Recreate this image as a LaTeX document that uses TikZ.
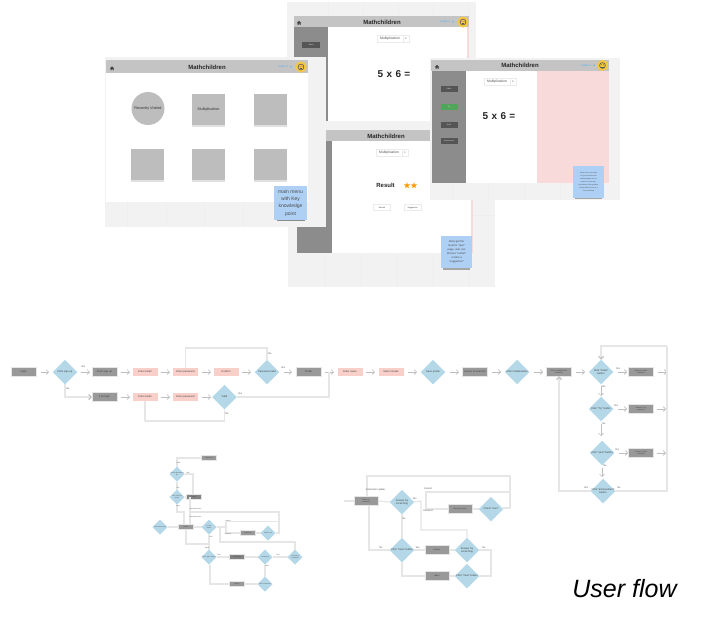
\documentclass[tikz,border=0pt]{standalone}
\usepackage{fontspec}
\setmainfont{Liberation Sans}
\newfontfamily\djv{DejaVu Sans}
\usetikzlibrary{shapes.geometric,arrows.meta,positioning,calc}
\definecolor{cvbg}{HTML}{F2F2F2}
\definecolor{hdr}{HTML}{C4C4C4}
\definecolor{side}{HTML}{8C8C8C}
\definecolor{tile}{HTML}{BDBDBD}
\definecolor{pinkp}{HTML}{F9DADA}
\definecolor{sticky}{HTML}{AFD0F5}
\definecolor{dia}{HTML}{B5D8E8}
\definecolor{pk}{HTML}{F9CFCA}
\definecolor{gbox}{HTML}{999999}
\definecolor{wire}{HTML}{E6E6E6}
\definecolor{tip}{HTML}{BEBEBE}
\definecolor{gridl}{HTML}{EEEEEE}
\definecolor{darkbtn}{HTML}{555555}
\definecolor{okbtn}{HTML}{4FA65A}
\definecolor{avatar}{HTML}{F5C842}
\tikzset{
 x=1pt,y=-1pt,
 every node/.style={inner sep=0pt,outer sep=0pt,align=center},
 winbg/.style={fill=cvbg},
 title/.style={font=\fontsize{6}{7}\selectfont\bfseries,text=black!85},
 gbx/.style={fill=gbox,draw=wire,line width=.6pt,minimum width=25pt,minimum height=8.5pt,font=\fontsize{2.6}{3}\selectfont,text=black!75},
 sbx/.style={gbx,minimum width=15pt,minimum height=5pt,font=\fontsize{1.6}{2}\selectfont},
 pbx/.style={fill=pk,minimum width=25pt,minimum height=8.5pt,font=\fontsize{2.6}{3}\selectfont,text=black!75},
 dm/.style={diamond,fill=dia,inner sep=-7pt,minimum width=24.5pt,minimum height=24.5pt,aspect=1,font=\fontsize{2.6}{3}\selectfont,text=black!75},
 sdm/.style={diamond,fill=dia,inner sep=-6pt,minimum width=15pt,minimum height=15pt,aspect=1,font=\fontsize{1.6}{2}\selectfont,text=black!70},
 wr/.style={draw=wire,line width=1.2pt},
 ar/.style={draw=tip,line width=.6pt,-{Straight Barb[length=2.5pt,width=5pt]}},
 wa/.style={draw=wire,line width=1.2pt,-{Straight Barb[color=tip,length=2.5pt,width=5pt]}},
 lab/.style={font=\fontsize{2.4}{3}\selectfont,text=black!70},
 tinylab/.style={font=\fontsize{1.6}{2}\selectfont,text=black!70},
 sbtn/.style={fill=darkbtn,minimum width=17pt,minimum height=6pt,font=\fontsize{2}{2}\selectfont,text=white!85!black},
 ddbox/.style={draw=black!8,fill=white,line width=.4pt,minimum width=26pt,minimum height=7pt,font=\fontsize{3.4}{4}\selectfont,text=black!70},
 ddtip/.style={draw=black!8,fill=white,line width=.4pt,minimum width=6pt,minimum height=7pt,font=\djv\fontsize{2.5}{3}\selectfont,text=black!70},
 white btn/.style={draw=black!8,fill=white,line width=.4pt,minimum width=17pt,minimum height=6pt,font=\fontsize{2}{2}\selectfont,text=black!75},
 stk/.style={fill=sticky,text=black!70},
 tiletxt/.style={font=\fontsize{3.8}{4.5}\selectfont,text=black!80},
 homeic/.pic={\fill[black!75] (-2.2,0) -- (0,-2.2) -- (2.2,0) -- (1.5,0) -- (1.5,1.9) -- (.5,1.9) -- (.5,.6) -- (-.5,.6) -- (-.5,1.9) -- (-1.5,1.9) -- (-1.5,0) -- cycle;},
 faceic/.pic={\fill[avatar] (0,0) circle (5.6pt); \draw[black!65,line width=.6pt] (0,0) circle (2.9pt); \fill[black!65] (-1,-.7) circle (.45pt) (1,-.7) circle (.45pt); \draw[black!65,line width=.4pt] (-1.2,1.2) -- (1.2,1.2);},
 gradeic/.pic={\node[font=\fontsize{2.6}{3}\selectfont,text=blue!45!cyan!70] at (0,0) {Grade 3}; \fill[blue!45!cyan!70] (7,-.7) -- (9,-.7) -- (8,.7) -- cycle;},
}
\begin{document}
\begin{tikzpicture}
\useasboundingbox (0,0) rectangle (722,627);
\fill[white] (0,0) rectangle (722,627);

% ---- window 2 (behind)
\fill[winbg] (287,2) rectangle (476,121);
\foreach \gx in {328,363,398,433,468} \draw[gridl,line width=.4pt] (\gx,2) -- (\gx,121);
\draw[gridl,line width=.4pt] (287,78) -- (476,78);
\fill[hdr] (294,16) rectangle (469,27);
\fill[side] (294,27) rectangle (328,121);
\fill[white] (328,27) rectangle (467,121);
\fill[pinkp] (467,27) rectangle (469,121);
\pic at (299,23) {homeic};
\node[title] (t2) at (382,22) {Mathchildren};
\pic at (445,22) {gradeic};
\pic at (463,22) {faceic};
\node[sbtn,minimum width=18pt] (b2) at (311,45) {Video};
\node[ddbox] (dd2) at (390,38.5) {Multiplication};
\node[ddtip,right=0pt of dd2] (dt2) {▾};
\node[font=\fontsize{10}{12}\selectfont\bfseries,text=black!85] (q2) at (394,74) {5\,\,x\,\,6\,\,=};

% ---- window 3
\fill[winbg] (288,121) rectangle (495,287);
\foreach \gx in {325,361,397,433,469} \draw[gridl,line width=.4pt] (\gx,253) -- (\gx,287);
\draw[gridl,line width=.4pt] (473,215) -- (495,215);
\fill[hdr] (297,130) rectangle (473,141);
\fill[side] (297,141) rectangle (332,253);
\fill[white] (332,141) rectangle (471,253);
\fill[pinkp] (471,141) rectangle (473,253);
\node[title] (t3) at (386,136) {Mathchildren};
\node[ddbox] (dd3) at (389,152.5) {Multiplication};
\node[ddtip,right=0pt of dd3] (dt3) {▾};
\node[font=\fontsize{6}{7}\selectfont\bfseries,text=black!85] (res) at (385.5,185.5) {Result};
\node[star,star points=5,star point ratio=2.4,fill=orange!80!yellow,minimum size=6.5pt] (s1) at (407,185.5) {};
\node[star,star points=5,star point ratio=2.4,fill=orange!80!yellow,minimum size=6.5pt] (s2) at (414,185.5) {};
\node[white btn] (rb) at (382,207.5) {Restart};
\node[white btn] (sb) at (412.5,207.5) {Suggestion};
\fill[black!35] (443,265) rectangle (470,269.5);
\node[stk,minimum width=31pt,minimum height=32pt,font=\fontsize{2.7}{3.9}\selectfont] (n3) at (456.5,252) {Allow get the\\result in ``quiz''\\page, user can\\Choose ``restart''\\or take a\\``suggestion''};

% ---- window 1 (main menu)
\fill[winbg] (105,57) rectangle (326,227);
\foreach \gx in {127,166,204,243,282} \draw[gridl,line width=.4pt] (\gx,202) -- (\gx,227);
\fill[hdr] (106,60) rectangle (308,73);
\fill[white] (106,73) rectangle (308,202);
\pic at (112,68.5) {homeic};
\node[title] (t1) at (207,67) {Mathchildren};
\pic at (283,67) {gradeic};
\pic at (301,67) {faceic};
\node[circle,fill=tile,minimum size=33pt,tiletxt] (c1) at (148,108.5) {Recently Visited};
\foreach \nm/\px/\py/\tx in {a/208.5/109.5/Multiplication,b/270/109.5/,c/147.5/164/,d/208.5/164/,e/270/164/}{
  \fill[black!12] (\px-16.5,\py-14.5) rectangle (\px+16.5,\py+17.5);
  \node[fill=tile,minimum width=33pt,minimum height=31pt,tiletxt] (tile\nm) at (\px,\py) {\tx};
}
\fill[black!45] (277,218) rectangle (305,221);
\node[stk,minimum width=33.5pt,minimum height=34pt,font=\fontsize{5}{7.2}\selectfont] (n1) at (290.5,203) {main menu\\with Key\\knowledge\\point};

% ---- window 4
\fill[winbg] (430,58) rectangle (620,200);
\foreach \gx in {452,488,524,560,596} \draw[gridl,line width=.4pt] (\gx,183) -- (\gx,200);
\fill[hdr] (431,60) rectangle (609,71);
\fill[side] (432,71) rectangle (466,183);
\fill[white] (466,71) rectangle (537,183);
\fill[pinkp] (537,71) rectangle (609,183);
\pic at (437,67) {homeic};
\node[title] (t4) at (520,65.5) {Mathchildren};
\pic at (586,65.5) {gradeic};
\pic at (602.5,65.5) {faceic};
\node[sbtn] (bv) at (449,89) {Video};
\node[sbtn,fill=okbtn] (bt) at (449,107) {Try};
\node[sbtn] (bq) at (449,124.5) {Quiz};
\node[sbtn,font=\fontsize{1.8}{2}\selectfont] (ba) at (449,140.5) {achievement};
\node[ddbox] (dd4) at (497,82) {Multiplication};
\node[ddtip,right=0pt of dd4] (dt4) {▾};
\node[font=\fontsize{10}{12}\selectfont\bfseries,text=black!85] (q4) at (499,116) {5\,\,x\,\,6\,\,=};
\fill[black!35] (575,196) rectangle (602,198.5);
\node[stk,minimum width=31pt,minimum height=32pt,font=\fontsize{1.7}{3}\selectfont] (n4) at (588.5,182) {Draw here to put input\\only, use the pen tool\\and Backspace tool to\\erase as in the quiz,\\the answer of the problem\\can be filled in here as a\\user practising};

% ---- main flow
\node[gbx] (login) at (23.5,372) {Login};
\node[dm] (d1) at (65,372) {Click sign up};
\node[gbx] (push) at (104.5,372) {Push sign up};
\node[pbx] (em1) at (145,372) {Enter email};
\node[pbx] (pw1) at (185.5,372) {Enter password};
\node[pbx] (cf) at (226,372) {Confirm};
\node[dm] (d2) at (267,372) {Password valid};
\node[gbx] (prof) at (308.5,372) {Profile};
\node[pbx] (nm) at (350,372) {Enter name};
\node[pbx] (gr) at (391,372) {Select Grade};
\node[dm] (d3) at (433,372) {Save profile};
\node[gbx] (rt) at (475,372) {Return to main list};
\node[dm] (d4) at (517,372) {Click multiplication};
\node[gbx,font=\fontsize{1.8}{2}\selectfont] (mp) at (559,372) {Return multiplication\\materials};
\node[dm] (i1) at (601,372) {Click ``Index''\\button};
\node[gbx,font=\fontsize{1.8}{2}\selectfont] (r1) at (641,372) {Return to Index\\materials};
\node[dm] (i2) at (601,409) {Click ``Try'' button};
\node[gbx,font=\fontsize{1.8}{2}\selectfont] (r2) at (641,409) {Return to Try\\materials};
\node[dm] (i3) at (602,453) {Click ``Quiz'' button};
\node[gbx,font=\fontsize{1.8}{2}\selectfont] (r3) at (641,453) {Return to Quiz\\materials};
\node[dm] (i4) at (603,491) {Click ``achievement''\\button};
\node[gbx] (lg) at (104.5,397) {If no login};
\node[pbx] (em2) at (145,397) {Enter email};
\node[pbx] (pw2) at (185.5,397) {Enter password};
\node[dm] (d5) at (224.5,397) {Valid};

\foreach \xs/\xe in {41/49,81/90,121/130,161/170,202/211,242/251,284/292,325/334,366/375,408/417,450/459,492/501,534/543,576/585,618/627,658/667}
  \draw[ar] (\xs,372) -- (\xe,372);
\draw[ar] (618,409) -- (627,409);
\draw[ar] (619,453) -- (628,453);
\draw[ar] (657,409) -- (666,409);
\draw[ar] (657,453) -- (666,453);
\foreach \xs/\xe in {121/130,161/170,202/211}
  \draw[ar] (\xs,397) -- (\xe,397);
\draw[ar] (601,386) -- (601,396);
\draw[ar] (601,424) -- (601,436);
\draw[ar] (602,468) -- (602,477);
\draw[wa] (d1.south) |- (lg.west);
\coordinate (top1) at (267,348);
\draw[wr] (pw1.north) |- (top1) -- (d2.north);
\coordinate (low1) at (144.5,421);
\draw[wr] (em2.south) |- (low1) -| (d5.south);
\coordinate (lk) at (329,372);
\draw[wr] (d5.east) -- (lk |- d5.east) -- (lk);
\coordinate (lp) at (667,346);
\draw[wr] (i4.east) -| (lp);
\draw[wa] (lp) -| (i1.north);
\draw[wa] (i4.west) -| (mp.south);
\node[lab] (ly1) at (83,367) {Yes};
\node[lab] (ln1) at (68,389) {No};
\node[lab] (ln2) at (270,354) {No};
\node[lab] (ly2) at (283,368) {Yes};
\node[lab] (ln3) at (227,413.5) {No};
\node[lab] (ly3) at (240,394) {Yes};
\node[lab] (ly4) at (618,369) {Yes};
\node[lab] (ln4) at (604,387) {No};
\node[lab] (ly5) at (616,406) {Yes};
\node[lab] (ln5) at (604,424) {No};
\node[lab] (ly6) at (617,450) {Yes};
\node[lab] (ln6) at (605,466) {No};
\node[lab] (ly7) at (586,488) {Yes};
\node[lab] (ln7) at (619,488) {No};

% ---- lower-left flow
\node[sbx] (ltop) at (209,458) {Return list};
\node[sdm] (l1) at (177,474) {Click achievement\\list};
\node[sdm] (l2) at (177,497) {Click ``Recent''\\button};
\node[sbx,fill=gbox!85!black] (lr) at (194,497) {Return};
\node[sbx] (lm) at (186,527) {Return};
\node[sdm] (l0) at (160,527) {Click main menu};
\node[sdm] (l3) at (209,527) {Check\\button};
\node[sbx] (lb1) at (248,533) {Return list};
\node[sdm] (l4) at (268,533) {Check next};
\node[sdm] (l5) at (209,557) {Click ``Quiz'' button};
\node[sbx,fill=gbox!85!black] (lb2) at (237,557) {Quiz page};
\node[sdm] (l6) at (265,557) {Answering};
\node[sdm] (l7) at (295,557) {Answering\\completed};
\node[sdm] (l8) at (265,584) {Click next button};
\node[sbx] (lb3) at (237,584) {Return};
\coordinate (u1) at (279,512);
\coordinate (u2) at (190,512);
\coordinate (u3) at (226,521.5);
\coordinate (u4) at (226,527);
\coordinate (u5) at (220,527);
\coordinate (u6) at (220,542);
\coordinate (u8) at (209,544);
\coordinate (u9) at (177,512);
\coordinate (u10) at (184,512);
\coordinate (u11) at (184,524);
\coordinate (u12) at (193,474);
\coordinate (u13) at (193,494);
\coordinate (u14) at (190,497);
\coordinate (u15) at (190,525);
\coordinate (u16) at (210,584);
\begin{scope}[on background layer/.style={}]
\draw[wr] (ltop.west) -| (l1.north);
\draw[wr] (l1.south) -- (l2.north);
\draw[wr] (l1.east) -- (u12) -- (u13);
\draw[wr] (l2.east) -- (lr.west);
\draw[wr] (l2.south) -- (u9) -- (u10) -- (u11);
\draw[wr] (u14) -- (u15);
\draw[wr] (u2) -- (u1) |- (l4.east);
\draw[wr] (l0.east) -- (lm.west);
\draw[wr] (lm.east) -- (l3.west);
\draw[wr] (l3.east) -- (u4);
\draw[wr] (u3) -- (u3 -| u1);
\draw[wr] (u3) -- (u3 |- lb1.west) -- (lb1.west);
\draw[wr] (lb1.east) -- (l4.west);
\draw[wr] (u5) -- (u6) -| (l7.north);
\draw[wr] (lm.south) |- (u8);
\draw[wr] (l3.south) -- (l5.north);
\draw[wr] (l5.east) -- (lb2.west);
\draw[wr] (lb2.east) -- (l6.west);
\draw[wr] (l6.east) -- (l7.west);
\draw[wr] (l6.south) -- (l8.north);
\draw[wr] (l8.west) -- (lb3.east);
\draw[wr] (lb3.west) -- (u16) -- (l5.south -| u16);
\end{scope}
\node[tinylab] (ll1) at (178.5,462.5) {False};
\node[tinylab] (ll2) at (188,472.5) {True};
\node[tinylab] (ll3) at (178,488) {True};
\node[tinylab] (ll4) at (178,506) {False};
\node[tinylab] (ll5) at (195.5,508.5) {achievement list};
\node[tinylab] (ll6) at (195.5,516.5) {achievement list};
\node[tinylab] (ll7) at (228,520.5) {Correct};
\node[tinylab] (ll8) at (228,534) {Incorrect};
\node[tinylab] (ll9) at (211,536.5) {True};
\node[tinylab] (ll10) at (207,547.5) {False};
\node[tinylab] (ll11) at (219,554.5) {True};
\node[tinylab] (ll12) at (278,554.5) {True};
\node[tinylab] (ll13) at (267,566) {False};

% ---- lower-middle flow
\coordinate (inc) at (344,501);
\node[gbx,minimum width=24pt,font=\fontsize{1.8}{2}\selectfont] (q0) at (366,501) {Return to\\materials};
\node[dm] (q1) at (402,502) {Answer by\\scratching};
\node[gbx,minimum width=24pt,font=\fontsize{2}{2}\selectfont] (q2b) at (460,509) {Get new score};
\node[dm] (q3) at (491,509) {Check ``next''};
\node[dm] (q4b) at (402,550) {Click ``View'' button};
\node[gbx,minimum width=24pt,font=\fontsize{2}{2}\selectfont] (q5) at (437,550) {Answer};
\node[dm] (q6) at (467,550) {Answer by\\scratching};
\node[dm] (q7) at (467,576) {Click ``View'' button};
\node[gbx,minimum width=24pt,font=\fontsize{2}{2}\selectfont] (q8) at (437,576) {Hide it};
\coordinate (v1) at (367,476);
\coordinate (v2) at (510,476);
\coordinate (v3) at (510,508);
\coordinate (v4) at (426,492);
\coordinate (v5) at (510,492);
\coordinate (v6) at (421,501);
\coordinate (v7) at (421,530);
\coordinate (v8) at (369,550);
\coordinate (v9) at (491,550);
\draw[wr] (inc) -- (q0.west);
\draw[wr] (q0.east) -- (q1.west);
\draw[wr] (q0.north -| v1) -- (v1) -- (v2) -- (v3) -- (q3.east |- v3);
\draw[wr] (v5) -- (v4) |- (q2b.west);
\draw[wr] (q2b.east) -- (q3.west);
\draw[wr] (q1.east) -- (v6) -- (v7) -| (q6.north);
\draw[wr] (q1.south) -- (q4b.north);
\draw[wr] (q0.south -| v8) -- (v8) -- (q4b.west);
\draw[wr] (q4b.east) -- (q5.west);
\draw[wr] (q5.east) -- (q6.west);
\draw[wr] (q6.east) -- (v9) |- (q7.east);
\draw[wr] (q7.west) -- (q8.east);
\draw[wr] (q8.west) -| (q4b.south);
\node[lab] (m1) at (375.5,489.5) {Instruction update};
\node[lab] (m2) at (428,489) {Correct};
\node[lab] (m3) at (428,511) {Incorrect};
\node[lab] (m4) at (414.5,499) {Yes};
\node[lab] (m5) at (404,519) {No};
\node[lab] (m6) at (381,547.5) {No};
\node[lab] (m7) at (417.5,548) {Yes};
\node[lab] (m8) at (484,547.5) {No};

% ---- caption
\node[font=\fontsize{25}{30}\selectfont\itshape,text=black] (cap) at (624.5,589) {User flow};
\end{tikzpicture}
\end{document}
